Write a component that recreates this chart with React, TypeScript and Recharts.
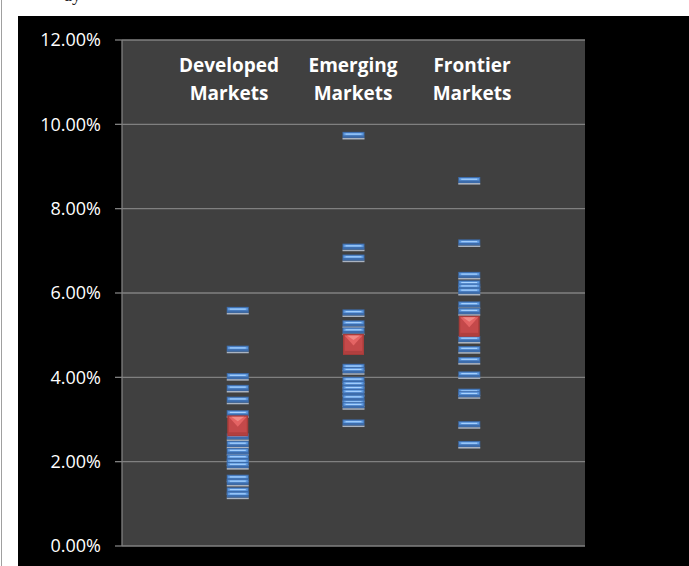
import React from "react";
import { ScatterChart, Scatter, XAxis, YAxis, CartesianGrid } from "recharts";

const categories = ["Developed Markets", "Emerging Markets", "Frontier Markets"];
const categoryX = [1, 2, 3];

const developedValues = [5.6, 4.68, 4.03, 3.75, 3.47, 3.15, 2.6, 2.42, 2.25, 2.1, 2.0, 1.92, 1.62, 1.52, 1.32, 1.22];
const emergingValues = [9.75, 7.1, 6.84, 5.54, 5.28, 5.11, 4.25, 4.17, 3.94, 3.84, 3.74, 3.65, 3.52, 3.4, 3.34, 2.93];
const frontierValues = [8.68, 7.2, 6.43, 6.23, 6.15, 6.05, 5.73, 5.57, 4.91, 4.67, 4.41, 4.07, 3.66, 3.6, 2.89, 2.42];
const meanValues = [2.85, 4.78, 5.21];

const yTicks = [0, 2, 4, 6, 8, 10, 12];

const seriesValues = [developedValues, emergingValues, frontierValues];
const pointData = seriesValues.flatMap((vals, i) => vals.map((v) => ({ x: categoryX[i], y: v })));
const meanData = meanValues.map((v, i) => ({ x: categoryX[i], y: v }));

const Dash = (props: any) => {
  const { cx, cy } = props;
  if (cx == null || cy == null) return null;
  const w = 22;
  const x0 = cx - w / 2;
  return (
    <g>
      <rect x={x0} y={cy + 3} width={w} height={1.6} fill="#aab3c0" />
      <rect x={x0} y={cy - 3} width={w} height={6} fill="#3d6cab" />
      <rect x={x0 + 1} y={cy - 2} width={w - 2} height={2.5} fill="#5f9ae0" />
      <rect x={x0 + 3} y={cy - 1.3} width={w - 6} height={1.1} fill="#a9d3ff" />
    </g>
  );
};

const MeanSquare = (props: any) => {
  const { cx, cy } = props;
  if (cx == null || cy == null) return null;
  const s = 21;
  const x0 = cx - s / 2;
  const y0 = cy - s / 2;
  return (
    <g>
      <rect x={x0} y={y0} width={s} height={s} fill="#a83c3a" />
      <rect x={x0 + 1.5} y={y0 + 1.5} width={s - 3} height={s - 3} fill="#c4494a" />
      <polygon
        points={`${x0 + 1.5},${y0 + 1.5} ${x0 + s - 1.5},${y0 + 1.5} ${cx},${cy + 1}`}
        fill="#e46464"
      />
      <polygon
        points={`${x0 + 4},${y0 + 1.5} ${x0 + s - 4},${y0 + 1.5} ${cx},${y0 + 6}`}
        fill="#f08a86"
      />
      <rect x={x0 + 1.5} y={y0 + s - 4} width={s - 3} height={2.5} fill="#b03f3f" />
    </g>
  );
};

const labelPositions = [
  { cx: 229, top: 51 },
  { cx: 353, top: 51 },
  { cx: 472, top: 51 },
];

export default function App() {
  return (
    <div
      style={{
        position: "absolute",
        left: 0,
        top: 0,
        width: 689,
        height: 566,
        background: "#ffffff",
        overflow: "hidden",
      }}
    >
      <div style={{ position: "absolute", left: 1, top: 0, width: 1, height: 566, background: "#a0a0a0" }} />
      <div
        style={{
          position: "absolute",
          left: 64,
          top: -14,
          fontFamily: "'Liberation Serif', serif",
          fontSize: 18,
          lineHeight: "18px",
          color: "#222",
        }}
      >
        ay
      </div>
      <div style={{ position: "absolute", left: 18, top: 16, width: 671, height: 550, background: "#000000" }}>
        <ScatterChart width={671} height={550} margin={{ top: 24, right: 104, bottom: 20, left: 0 }}>
          <CartesianGrid fill="#404040" stroke="#808080" strokeWidth={1.3} vertical={false} />
          <XAxis type="number" dataKey="x" domain={[0, 4]} hide height={0} />
          <YAxis
            type="number"
            dataKey="y"
            domain={[0, 12]}
            ticks={yTicks}
            width={104}
            tickSize={7}
            tickMargin={14}
            stroke="#808080"
            axisLine={{ stroke: "#808080", strokeWidth: 1.3 }}
            tickLine={{ stroke: "#808080", strokeWidth: 1.3 }}
            tick={{ fill: "#ffffff", fontSize: 18, fontFamily: "'Open Sans', sans-serif" }}
            tickFormatter={(v: number) => v.toFixed(2) + "%"}
            interval={0}
          />
          <Scatter data={pointData} shape={<Dash />} isAnimationActive={false} />
          <Scatter data={meanData} shape={<MeanSquare />} isAnimationActive={false} />
        </ScatterChart>
      </div>
      {categories.map((c, i) => {
        const [a, b] = c.split(" ");
        return (
          <div
            key={c}
            style={{
              position: "absolute",
              left: labelPositions[i].cx - 70,
              top: labelPositions[i].top,
              width: 140,
              textAlign: "center",
              color: "#ffffff",
              fontFamily: "'Open Sans', sans-serif",
              fontWeight: 700,
              fontSize: 19,
              lineHeight: "28px",
            }}
          >
            {a}
            <br />
            {b}
          </div>
        );
      })}
    </div>
  );
}
